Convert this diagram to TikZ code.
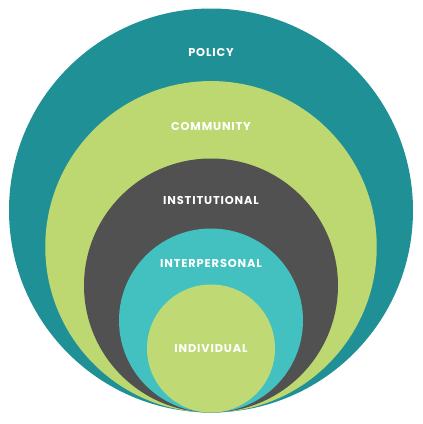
\documentclass[tikz,border=0pt]{standalone}
\usepackage{fontspec}
\setmainfont{Poppins}[LetterSpace=7.5]
\definecolor{policyc}{HTML}{1F9196}
\definecolor{commc}{HTML}{BDD870}
\definecolor{instc}{HTML}{515151}
\definecolor{interc}{HTML}{42C1C0}
\definecolor{indc}{HTML}{BFDA75}
\begin{document}
\begin{tikzpicture}[x=1pt,y=-1pt,
  lvl/.style={circle,inner sep=0pt,draw=none},
  lbl/.style={text=white,font=\fontsize{11.4}{13}\selectfont\bfseries,inner sep=0pt}]
\useasboundingbox (0,0) rectangle (423,424);
\fill[white] (0,0) rectangle (423,424);
\node[lvl,fill=policyc,minimum size=404pt] (policy) at (211,210.5) {};
\node[lvl,fill=commc,minimum size=331.5pt] (comm) at (211,246.8) {};
\node[lvl,fill=instc,minimum size=254pt] (inst) at (211,285.5) {};
\node[lvl,fill=interc,minimum size=184pt] (inter) at (211,320.5) {};
\node[lvl,fill=indc,minimum size=128pt] (ind) at (211,348.5) {};
\node[lbl] (tpolicy) at (211,52) {POLICY};
\node[lbl] (tcomm) at (211,126) {COMMUNITY};
\node[lbl] (tinst) at (211,200) {INSTITUTIONAL};
\node[lbl] (tinter) at (211,263) {INTERPERSONAL};
\node[lbl] (tind) at (211,349) {INDIVIDUAL};
\end{tikzpicture}
\end{document}
